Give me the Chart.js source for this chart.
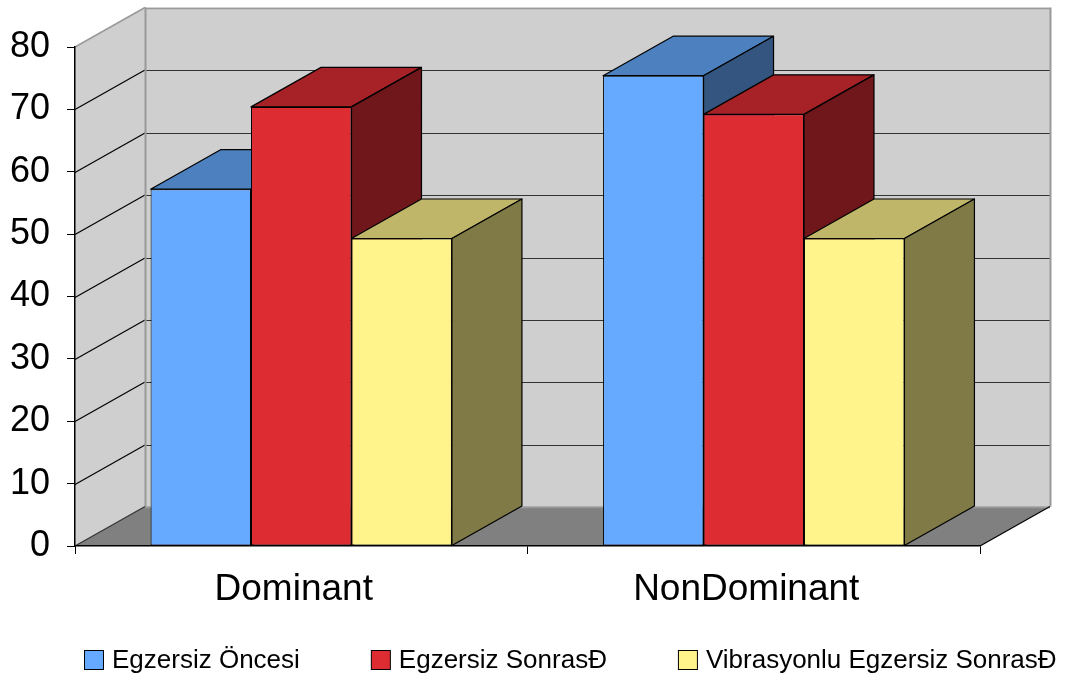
<!DOCTYPE html>
<html>
<head>
<meta charset="utf-8">
<script src="https://cdn.jsdelivr.net/npm/chart.js@4/dist/chart.umd.min.js"></script>
<style>
  html, body { margin: 0; padding: 0; background: #ffffff; }
  #wrap { width: 1071px; height: 679px; }
</style>
</head>
<body>
<div id="wrap"><canvas id="c" width="1071" height="679"></canvas></div>
<script>
// ---- data ----
const categories = ['Dominant', 'NonDominant'];
const seriesNames = ['Egzersiz Öncesi', 'Egzersiz SonrasĐ', 'Vibrasyonlu Egzersiz SonrasĐ'];
const egzersizOncesi = [57.2, 75.4];
const egzersizSonrasi = [70.4, 69.2];
const vibrasyonluSonrasi = [49.3, 49.3];
const yTickValues = [0, 10, 20, 30, 40, 50, 60, 70, 80];

// ---- styling ----
const FONT = '"Liberation Sans", Arial, sans-serif';
const frontColors = ['#66aaff', '#dd2d33', '#fff38c'];
const topColors   = ['#4c80bf', '#a62226', '#bfb66a'];
const sideColors  = ['#335580', '#6f171a', '#807a46'];
const wallColor = '#cfcfcf';
const floorColor = '#808080';
const DX = 70, DY = -39.5;   // depth offset of the 3D box

function poly(ctx, pts, fill, stroke, lw) {
  ctx.beginPath();
  ctx.moveTo(pts[0][0], pts[0][1]);
  for (let i = 1; i < pts.length; i++) ctx.lineTo(pts[i][0], pts[i][1]);
  ctx.closePath();
  if (fill) { ctx.fillStyle = fill; ctx.fill(); }
  if (stroke) { ctx.strokeStyle = stroke; ctx.lineWidth = lw || 1; ctx.stroke(); }
}
function seg(ctx, x1, y1, x2, y2, color, lw) {
  ctx.beginPath();
  ctx.moveTo(x1, y1);
  ctx.lineTo(x2, y2);
  ctx.strokeStyle = color;
  ctx.lineWidth = lw || 1;
  ctx.stroke();
}

// walls, floor, gridlines and the depth faces of the columns
const boxPlugin = {
  id: 'box3d',
  beforeDraw(chart) {
    const { ctx, chartArea: a, scales: { y } } = chart;
    const L = a.left, R = a.right, T = y.getPixelForValue(yTickValues[yTickValues.length - 1]), B = y.getPixelForValue(0);
    ctx.save();
    poly(ctx, [[L, T], [L + DX, T + DY], [L + DX, B + DY], [L, B]], wallColor);
    poly(ctx, [[L + DX, T + DY], [R + DX, T + DY], [R + DX, B + DY], [L + DX, B + DY]], wallColor);
    poly(ctx, [[L, B], [L + DX, B + DY], [R + DX, B + DY], [R, B]], floorColor);

    yTickValues.forEach(v => {
      if (v === 0 || v === yTickValues[yTickValues.length - 1]) return;
      const py = Math.round(y.getPixelForValue(v)) + 0.5;
      seg(ctx, L, py, L + DX, py + DY, '#000000', 1.2);
      seg(ctx, L + DX, Math.round(py + DY) + 0.5, R + DX, Math.round(py + DY) + 0.5, '#333333', 1.2);
    });

    // wall edges
    const g = '#999999';
    seg(ctx, L, T, L + DX, T + DY, g, 1.5);
    seg(ctx, L + DX, Math.round(T + DY) + 0.5, R + DX, Math.round(T + DY) + 0.5, g, 1.5);
    seg(ctx, R + DX + 0.5, T + DY, R + DX + 0.5, B + DY, g, 2);
    seg(ctx, L + DX + 0.5, T + DY, L + DX + 0.5, B + DY, g, 2);
    seg(ctx, L + DX, Math.round(B + DY) + 0.5, R + DX, Math.round(B + DY) + 0.5, g, 1.5);
    // floor edges
    seg(ctx, L, B, L + DX, B + DY, '#333333', 1.2);
    seg(ctx, R, B, R + DX, B + DY, '#000000', 1.2);
    ctx.restore();
  },
  beforeDatasetsDraw(chart) {
    // tops and sides, left to right; the front faces drawn afterwards cover them
    const ctx = chart.ctx;
    ctx.save();
    ctx.lineJoin = 'round';
    categories.forEach((_, c) => {
      seriesNames.forEach((__, i) => {
        const bar = chart.getDatasetMeta(i).data[c];
        if (!bar) return;
        const { x, y, base, width } = bar.getProps(['x', 'y', 'base', 'width'], true);
        const l = x - width / 2, r = x + width / 2;
        poly(ctx, [[l, y], [r, y], [r + DX, y + DY], [l + DX, y + DY]], topColors[i], '#000000', 1.2);
        poly(ctx, [[r, y], [r + DX, y + DY], [r + DX, base + DY], [r, base]], sideColors[i], '#000000', 1.2);
      });
    });
    ctx.restore();
  }
};

// single legend row under the axis
const legendPlugin = {
  id: 'legendRow',
  afterDraw(chart) {
    const ctx = chart.ctx;
    ctx.save();
    ctx.font = '26px ' + FONT;
    const box = 19, textGap = 9, itemGap = 71, centerX = 570.5, baseY = 667.5;
    const widths = seriesNames.map(n => ctx.measureText(n).width);
    const total = widths.reduce((s, w) => s + box + textGap + w, 0) + itemGap * (seriesNames.length - 1);
    let x = Math.round(centerX - total / 2);
    seriesNames.forEach((name, i) => {
      ctx.fillStyle = frontColors[i];
      ctx.fillRect(x + 0.5, 650.5, box, box);
      ctx.strokeStyle = '#000000';
      ctx.lineWidth = 1;
      ctx.strokeRect(x + 0.5, 650.5, box, box);
      ctx.fillStyle = '#000000';
      ctx.textBaseline = 'alphabetic';
      ctx.textAlign = 'left';
      ctx.fillText(name, x + box + textGap, baseY);
      x += box + textGap + widths[i] + itemGap;
    });
    ctx.restore();
  }
};

const seriesValues = [egzersizOncesi, egzersizSonrasi, vibrasyonluSonrasi];

new Chart(document.getElementById('c'), {
  type: 'bar',
  data: {
    labels: categories,
    datasets: seriesNames.map((name, i) => ({
      label: name,
      data: seriesValues[i],
      backgroundColor: frontColors[i],
      borderColor: '#000000',
      borderWidth: 1,
      borderSkipped: false,
      categoryPercentage: 0.666,
      barPercentage: 1.0
    }))
  },
  options: {
    responsive: false,
    animation: false,
    devicePixelRatio: 1,
    layout: { padding: { top: 47, right: 91, left: 0, bottom: 0 } },
    plugins: { legend: { display: false }, tooltip: { enabled: false } },
    scales: {
      x: {
        offset: true,
        grid: { display: true, drawOnChartArea: false, offset: true, tickLength: 8, color: '#000000', lineWidth: 1 },
        border: { display: true, color: '#000000', width: 1.5 },
        ticks: { color: '#000000', font: { family: FONT, size: 37 }, padding: 14, labelOffset: -7.5, maxRotation: 0 },
        afterFit(scale) { scale.height = 133; }
      },
      y: {
        min: 0,
        max: 80,
        grid: { display: true, drawOnChartArea: false, tickLength: 8, color: '#000000', lineWidth: 1 },
        border: { display: true, color: '#000000', width: 1.5 },
        ticks: { stepSize: 10, color: '#000000', font: { family: FONT, size: 36 }, padding: 17 },
        afterFit(scale) { scale.width = 75; }
      }
    }
  },
  plugins: [boxPlugin, legendPlugin]
});
</script>
</body>
</html>
